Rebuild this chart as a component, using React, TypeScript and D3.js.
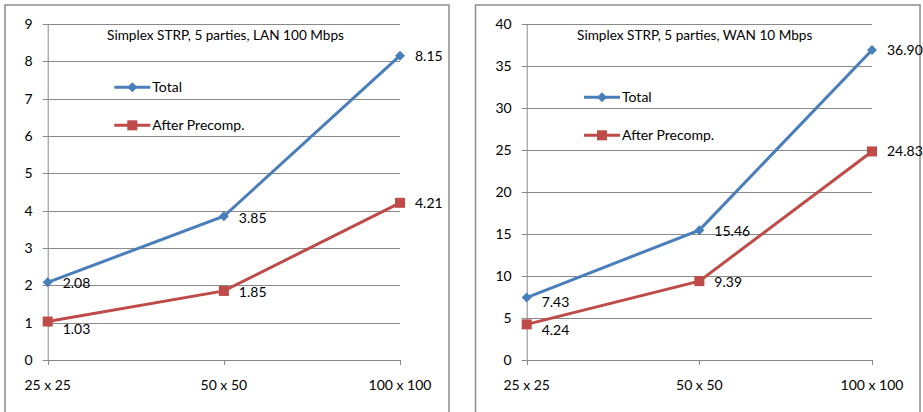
import React from "react";
import * as d3 from "d3";

const categories = ["25 x 25", "50 x 50", "100 x 100"];
const lanTotal = [2.08, 3.85, 8.15];
const lanAfter = [1.03, 1.85, 4.21];
const wanTotal = [7.43, 15.46, 36.9];
const wanAfter = [4.24, 9.39, 24.83];
const lanTicks = [0, 1, 2, 3, 4, 5, 6, 7, 8, 9];
const wanTicks = [0, 5, 10, 15, 20, 25, 30, 35, 40];
const lanTitle = "Simplex STRP, 5 parties, LAN 100 Mbps";
const wanTitle = "Simplex STRP, 5 parties, WAN 10 Mbps";
const seriesNames = ["Total", "After Precomp."];

const BLUE = "#4A7EBB";
const RED = "#BE4B48";
const GRID = "#8a8a8a";
const FONT = "Lato, 'Open Sans', sans-serif";

type ChartProps = {
  ox: number;
  boxW: number;
  plotL: number;
  plotR: number;
  ticks: number[];
  total: number[];
  after: number[];
  title: string;
  titleX: number;
  legendX: number;
  legendY: number;
  totalDy: number[];
  afterDy: number[];
};

function Chart(p: ChartProps) {
  const top = 24;
  const bottom = 360;
  const x = d3
    .scalePoint<string>()
    .domain(categories)
    .range([p.plotL, p.plotR]);
  const y = d3
    .scaleLinear()
    .domain([0, p.ticks[p.ticks.length - 1]])
    .range([bottom, top]);
  const line = d3
    .line<number>()
    .x((_, i) => x(categories[i]) as number)
    .y((d) => y(d));
  const fmt = d3.format(".2f");
  const series = [
    { name: seriesNames[0], data: p.total, color: BLUE, marker: "diamond", dy: p.totalDy },
    { name: seriesNames[1], data: p.after, color: RED, marker: "square", dy: p.afterDy },
  ];
  const marker = (kind: string, cx: number, cy: number, color: string) =>
    kind === "diamond" ? (
      <path
        d={`M${cx},${cy - 5}L${cx + 5},${cy}L${cx},${cy + 5}L${cx - 5},${cy}Z`}
        fill={color}
      />
    ) : (
      <rect x={cx - 5} y={cy - 5} width={10} height={10} fill={color} />
    );
  return (
    <g>
      <rect
        x={p.ox}
        y={5}
        width={p.boxW}
        height={420}
        fill="white"
        stroke="#8c8c8c"
        strokeWidth={1.5}
      />
      {p.ticks.map((t) => (
        <g key={t}>
          <line
            x1={p.plotL - 5}
            x2={p.plotR}
            y1={Math.round(y(t)) + 0.5}
            y2={Math.round(y(t)) + 0.5}
            stroke={GRID}
            strokeWidth={1}
          />
          <text
            x={p.plotL - 15}
            y={y(t)}
            dy="0.35em"
            textAnchor="end"
            fontSize={14}
            fontFamily={FONT}
            fill="#000"
          >
            {t}
          </text>
        </g>
      ))}
      <line
        x1={p.plotL + 0.5}
        x2={p.plotL + 0.5}
        y1={top}
        y2={bottom + 0.5}
        stroke={GRID}
      />
      {categories.map((c) => (
        <g key={c}>
          <line
            x1={Math.round(x(c) as number) + 0.5}
            x2={Math.round(x(c) as number) + 0.5}
            y1={bottom}
            y2={bottom + 5}
            stroke={GRID}
          />
          <text
            x={x(c)}
            y={385}
            dy="0.35em"
            textAnchor="middle"
            fontSize={14}
            fontFamily={FONT}
            fill="#000"
          >
            {c}
          </text>
        </g>
      ))}
      <text
        x={p.titleX}
        y={35}
        dy="0.35em"
        textAnchor="middle"
        fontSize={13.6}
        fontFamily={FONT}
        fill="#000"
      >
        {p.title}
      </text>
      {series.map((s, si) => (
        <g key={s.name}>
          <path d={line(s.data) || ""} fill="none" stroke={s.color} strokeWidth={3} />
          {s.data.map((v, i) => {
            const cx = x(categories[i]) as number;
            const cy = y(v);
            return (
              <g key={i}>
                {marker(s.marker, cx, cy, s.color)}
                <text
                  x={cx + 15}
                  y={cy + s.dy[i]}
                  dy="0.35em"
                  fontSize={14}
                  fontFamily={FONT}
                  fill="#000"
                >
                  {fmt(v)}
                </text>
              </g>
            );
          })}
          <line
            x1={p.legendX}
            x2={p.legendX + 36}
            y1={p.legendY + si * 38}
            y2={p.legendY + si * 38}
            stroke={s.color}
            strokeWidth={3}
          />
          {marker(s.marker, p.legendX + 18, p.legendY + si * 38, s.color)}
          <text
            x={p.legendX + 38}
            y={p.legendY + si * 38}
            dy="0.35em"
            fontSize={14}
            fontFamily={FONT}
            fill="#000"
          >
            {s.name}
          </text>
        </g>
      ))}
    </g>
  );
}

export default function App() {
  return (
    <svg
      width={923}
      height={412}
      style={{ position: "absolute", left: 0, top: 0, display: "block" }}
    >
      <rect width={923} height={412} fill="white" />
      <Chart
        ox={5}
        boxW={444}
        plotL={47.7}
        plotR={400}
        ticks={lanTicks}
        total={lanTotal}
        after={lanAfter}
        title={lanTitle}
        titleX={225.5}
        legendX={114.3}
        legendY={87.3}
        totalDy={[1, 1.5, 0]}
        afterDy={[8, 1, 0]}
      />
      <Chart
        ox={475.5}
        boxW={444.5}
        plotL={526.7}
        plotR={872}
        ticks={wanTicks}
        total={wanTotal}
        after={wanAfter}
        title={wanTitle}
        titleX={694.7}
        legendX={584}
        legendY={97.3}
        totalDy={[5, 1, 0]}
        afterDy={[6, 1, 0]}
      />
    </svg>
  );
}
